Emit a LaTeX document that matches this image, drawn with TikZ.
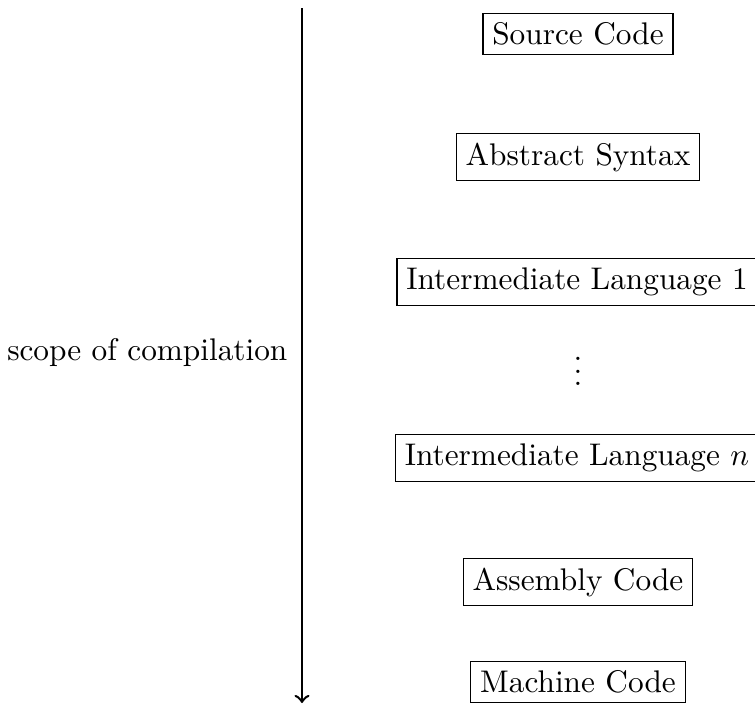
\documentclass[tikz,border=0pt]{standalone}
\begin{document}
\begin{tikzpicture}[x=0.3195pt,y=-0.3195pt,
  stage/.style={draw, inner sep=3pt},
  lbl/.style={inner sep=0pt}]
\useasboundingbox (0,0) rectangle (755,705);
\node[stage] (src) at (578,34) {Source Code};
\node[stage] (ast) at (578,157) {Abstract Syntax};
\node[stage] (il1) at (577,282) {Intermediate Language 1};
\node[lbl] (dots) at (578,362) {$\vdots$};
\node[stage] (iln) at (577,458) {Intermediate Language $n$};
\node[stage] (asm) at (578,582) {Assembly Code};
\node[stage] (mc) at (578,682) {Machine Code};
\coordinate (top) at (302,8);
\coordinate (bot) at (302,703);
\draw[thick,->] (top) -- (bot);
\node[lbl, anchor=east] (scope) at (288,352) {scope of compilation};
\end{tikzpicture}
\end{document}
